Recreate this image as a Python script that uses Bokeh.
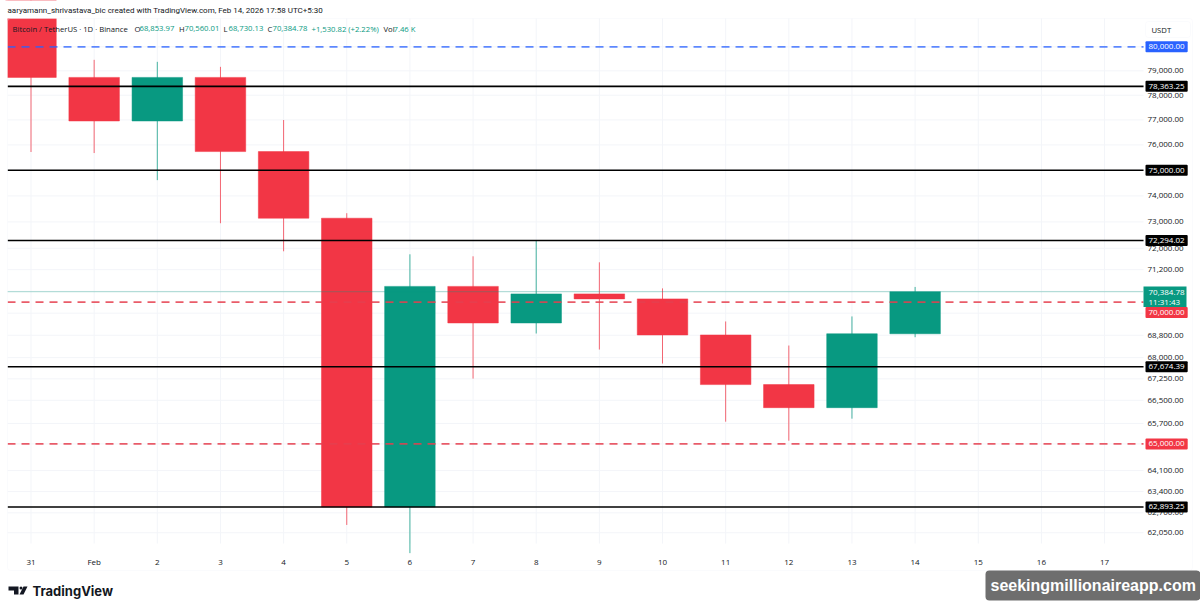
from bokeh.plotting import figure
from bokeh.embed import file_html
from bokeh.resources import INLINE
from bokeh.models import Label, BoxAnnotation, PolyAnnotation, FixedTicker, Range1d

days = ["31", "Feb", "2", "3", "4", "5", "6", "7", "8", "9", "10", "11", "12", "13", "14", "15", "16", "17"]
opens = [84100, 78731, 76957, 78731, 75736, 73142, 62893.25, 70581, 69244, 70304, 70121, 68810, 67048, 66244, 68853.97]
highs = [84300, 79457, 79374, 79166, 76997, 73334, 71775, 71700, 72304, 71475, 70507, 69298, 68432, 69480, 70560.01]
lows = [75719, 75677, 74613, 72951, 71888, 62304, 61392, 67258, 68863, 68289, 67790, 65760, 65109, 65864, 68730.13]
closes = [78731, 76957, 78731, 75736, 73142, 62893.25, 70581, 69244, 70304, 70121, 68810, 67048, 66244, 68853.97, 70384.78]
price_ticks = [79000, 78000, 77000, 76000, 75000, 74000, 73000, 72000, 71200, 68800, 68000, 67250, 66500, 65700, 64100, 63400, 62700, 62050]
grid_ticks = [80000, 79000, 78000, 77000, 76000, 75000, 74000, 73000, 72000, 71200, 70400, 69600, 68800, 68000, 67250, 66500, 65700, 65000, 64100, 63400, 62700, 62050]
black_levels = [78363.25, 75000.00, 72294.02, 67674.39, 62893.25]
blue_level = 80000.00
red_levels = [70000.00, 65000.00]
last_price = 70384.78

RED, GREEN, INK = "#F23645", "#089981", "#131722"
FONT = "Open Sans"
FS = "8px"
HS = "7.7px"
W, H = 1200, 610
X_L, X_R = -0.372, 17.617
Y_TOP, Y_BOT = 81225, 61700

p = figure(width=W, height=H, y_axis_type="log", output_backend="svg", toolbar_location=None,
           x_range=Range1d(-0.483, 18.519), y_range=Range1d(59578, 81961),
           min_border_left=0, min_border_right=0, min_border_top=0, min_border_bottom=0,
           y_axis_location="right", background_fill_color="white", border_fill_color="white")
p.outline_line_color = None

p.xaxis.ticker = FixedTicker(ticks=list(range(len(days))))
p.xaxis.major_label_overrides = {i: d for i, d in enumerate(days)}
p.yaxis.ticker = FixedTicker(ticks=price_ticks)
p.yaxis.major_label_overrides = {v: f"{v:,.2f}" for v in price_ticks}
for ax in (p.xaxis[0], p.yaxis[0]):
    ax.axis_line_color = None
    ax.major_tick_line_color = None
    ax.minor_tick_line_color = None
    ax.major_label_text_font = FONT
    ax.major_label_text_font_size = FS
    ax.major_label_text_color = INK
p.xaxis[0].major_label_standoff = -61
p.yaxis[0].major_label_standoff = -59
p.grid.visible = False

GRID = "#f3f5f9"
idx = list(range(len(opens)))
day_idx = list(range(len(days)))
p.segment(day_idx, [Y_BOT] * len(days), day_idx, [Y_TOP] * len(days), line_color=GRID, line_width=1)
p.segment([X_L] * len(grid_ticks), grid_ticks, [X_R] * len(grid_ticks), grid_ticks, line_color=GRID, line_width=1)

colors = [GREEN if c >= o else RED for o, c in zip(opens, closes)]
p.segment(idx, lows, idx, highs, line_color=colors, line_width=1, line_alpha=0.75)
p.vbar(x=idx, bottom=[min(a, b) for a, b in zip(opens, closes)], top=[max(a, b) for a, b in zip(opens, closes)],
       width=0.8, fill_color=colors, line_color=colors, line_width=0.5)

n = len(black_levels)
p.segment([X_L] * n, black_levels, [X_R] * n, black_levels, line_color="black", line_width=1.6)
p.segment([X_L], [blue_level], [X_R], [blue_level], line_color="#2962FF", line_width=1.8, line_dash="8 6", line_alpha=0.75)
n = len(red_levels)
p.segment([X_L] * n, red_levels, [X_R] * n, red_levels, line_color="#E5404F", line_width=1.8, line_dash="8 6", line_alpha=0.85)
p.segment([X_L], [last_price], [X_R], [last_price], line_color=GREEN, line_width=1, line_dash="1 1", line_alpha=0.7)


def label(text, px, py, color=INK, size=HS, style="normal", font=FONT, **kw):
    p.add_layout(Label(x=px, y=py, x_units="canvas", y_units="canvas", text=text, text_color=color,
                       text_font=font, text_font_size=size, text_font_style=style,
                       text_baseline="middle", **kw))


def box(l, r, t, b, **kw):
    p.add_layout(BoxAnnotation(left=l, right=r, top=t, bottom=b, left_units="canvas", right_units="canvas",
                               top_units="canvas", bottom_units="canvas", **kw))


def tag(v, text, bg, fg="white", y_units="data"):
    p.add_layout(Label(x=1145, y=v, x_units="canvas", y_units=y_units, text=text, text_color=fg,
                       text_font=FONT, text_font_size=FS, text_baseline="middle",
                       background_fill_color=bg, padding=3, border_radius=1))


box(0, 1200, 0, 18, fill_color="white", fill_alpha=1, line_color=None)
box(0, 7, 0, 553, fill_color="white", fill_alpha=1, line_color=None)

label("aaryamann_shrivastava_bic created with TradingView.com, Feb 14, 2026 17:58 UTC+5:30", 7, 10, size="8px", font="Roboto")
label("Bitcoin / TetherUS · 1D · Binance", 12, 28)
for t, x, c in [("O", 134, INK), ("68,853.97", 139, GREEN), ("H", 178.5, INK), ("70,560.01", 184, GREEN),
                ("L", 223, INK), ("68,730.13", 228, GREEN), ("C", 267, INK), ("70,384.78", 272, GREEN),
                ("+1,530.82 (+2.22%)", 311, GREEN), ("Vol", 383, INK), ("7.46 K", 393, GREEN)]:
    label(t, x, 28, color=c)

for v in black_levels:
    tag(v, f"{v:,.2f}", "black")
tag(blue_level, f"{blue_level:,.2f}", "#2962FF")
tag(red_levels[1], f"{red_levels[1]:,.2f}", RED)
tag(312, f"{red_levels[0]:,.2f}", RED, y_units="canvas")
box(1143, 1186, 286, 306.5, fill_color=GREEN, fill_alpha=1, line_color=None)
label(f"{last_price:,.2f}", 1148, 291.5, color="white", size=FS)
label("11:31:43", 1148, 301, color="white", size=FS)

box(1145, 1190, 21, 37, fill_alpha=0, line_color="#f0f3fa", border_radius=3)
label("USDT", 1151, 29)
box(7, 1192, 18, 570, fill_alpha=0, line_color="#f0f3fa", border_radius=3)

p.add_layout(PolyAnnotation(xs=[8, 18, 18, 13.5, 13.5, 8], ys=[586, 586, 594, 594, 590, 590],
                            xs_units="canvas", ys_units="canvas", fill_color=INK, fill_alpha=1, line_color=None))
box(19, 22, 586, 589, fill_color=INK, fill_alpha=1, line_color=None, border_radius=2)
p.add_layout(PolyAnnotation(xs=[23, 27, 23, 19], ys=[586, 586, 594, 594], xs_units="canvas", ys_units="canvas",
                            fill_color=INK, fill_alpha=1, line_color=None))
label("TradingView", 32, 590, size="13px", style="bold", font="Inter")
box(985, 1200, 570, 600, fill_color="#6e6e6e", fill_alpha=1, line_color=None, border_radius=4)
label("seekingmillionaireapp.com", 990, 585, color="white", size="16px", style="bold", font="Liberation Sans")

open("out.html", "w").write(file_html(p, INLINE))
